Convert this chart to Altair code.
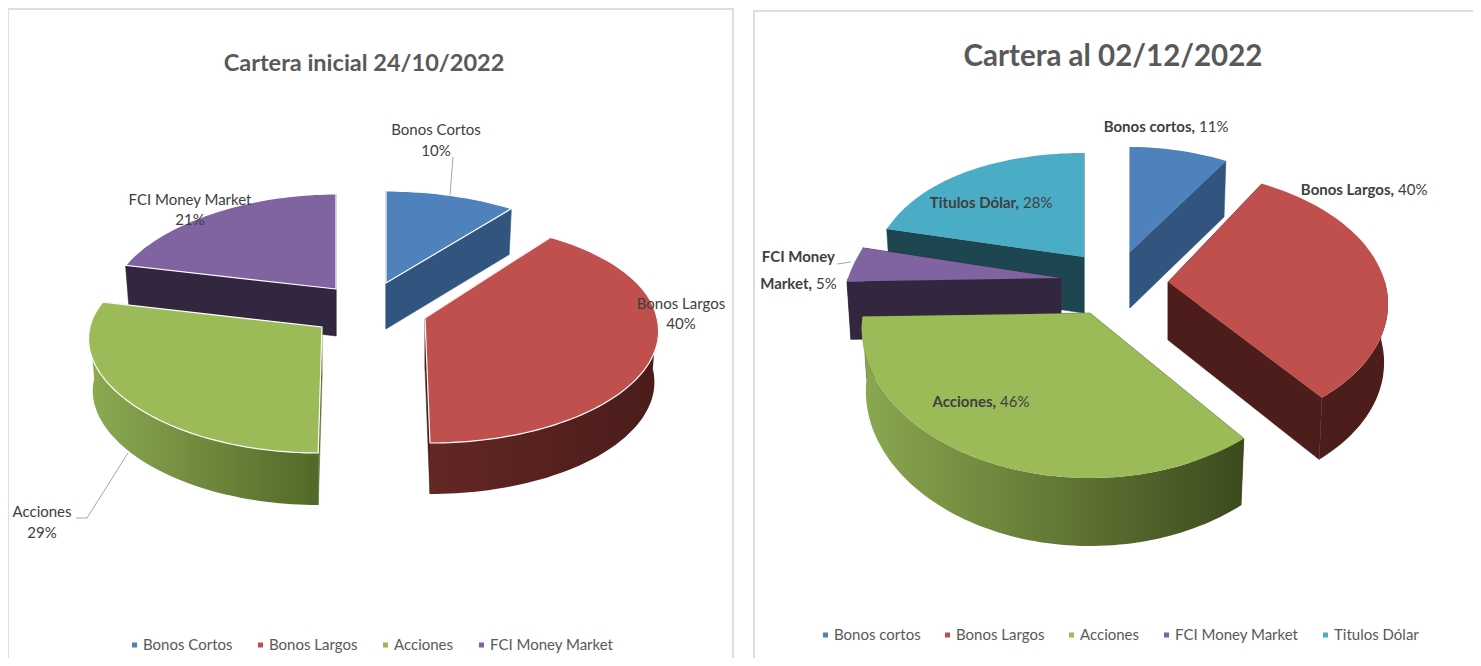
import math
import altair as alt
import pandas as pd

FONT = "Lato"

# ---- data ----
left_names = ["Bonos Cortos", "Bonos Largos", "Acciones", "FCI Money Market"]
left_values = [10, 40, 29, 21]
right_names = ["Bonos cortos", "Bonos Largos", "Acciones", "FCI Money Market", "Titulos Dólar"]
right_values = [11, 40, 46, 5, 28]

left_colors = ["#4f81bd", "#c0504d", "#9bbb59", "#8064a2"]
right_colors = ["#4f81bd", "#c0504d", "#9bbb59", "#8064a2", "#4bacc6"]
left_cut = ["#31557f", "#4c1d1b", "#5a7030", "#33273f"]
right_cut = ["#31557f", "#4c1d1b", "#3e4c1f", "#33273f", "#1d4650"]
left_wall = [("#31557f", "#31557f"), ("#632724", "#4a1c1a"), ("#8cab52", "#526829"), ("#33273f", "#33273f")]
right_wall = [("#31557f", "#31557f"), ("#4c1d1b", "#4c1d1b"), ("#8aa850", "#3c4a1d"), ("#33273f", "#33273f"), ("#1d4650", "#1d4650")]

# exploded slice geometry, page pixels: apex x, apex y, rm, k, ry, q, depth, depth growth, skew
left_geom = [
    (386, 283, 232, 23, 92, 0, 46, 0, 0.0),
    (425, 318, 232, 23, 111, 14, 51, 0, 0.04),
    (322, 327, 232, 23, 105, 21, 52, 0, -0.03),
    (336, 289, 223, 23, 95, 0, 47, 0, 0.0),
]
right_geom = [
    (1130, 252, 221, 37, 110, 5, 56, 0, 0.0),
    (1168, 282, 217, 37, 132, 21, 58, 5, 0.0),
    (1090, 313, 227, 24, 147, 18, 62, 6, 0.0),
    (1061, 278, 213, 47, 140, 0, 58, 0, 0.0),
    (1084, 257, 210, 37, 136, 32, 56, 0, 0.0),
]
left_order = [3, 0, 2, 1]
right_order = [4, 3, 0, 1, 2]

left_labels = [
    ("Bonos Cortos", 436, 130), ("10%", 436, 151),
    ("Bonos Largos", 681, 304), ("40%", 681, 324),
    ("Acciones", 42, 512), ("29%", 42, 533),
    ("FCI Money Market", 190, 200), ("21%", 190, 220),
]
right_labels = [
    ("Bonos cortos,", "11%", 1195, 127),
    ("Bonos Largos,", "40%", 1394, 190),
    ("Titulos Dólar,", "28%", 1019, 203),
    ("FCI Money", "", 835, 257),
    ("Market,", "5%", 812, 284),
    ("Acciones,", "46%", 996, 402),
]
OX, OY = 8, 8


def pt(g, a_deg, bottom=False, shrink=0.982):
    cx, cy, rm, k, ry, q, d0, dk, sk = g
    a = math.radians(a_deg)
    x = math.sin(a) * (rm - k * math.cos(a))
    y = -math.cos(a) * (ry - q * math.cos(a))
    x += sk * max(y, 0)
    if bottom:
        x *= shrink
        y += d0 - dk * math.cos(a)
    return [round(cx + x - OX, 1), round(cy + y - OY, 1)]


def feature(ring, **props):
    return {"type": "Feature", "properties": props,
            "geometry": {"type": "Polygon", "coordinates": [ring + [ring[0]]]}}


def arc(a0, a1):
    n = max(2, int(abs(a1 - a0) / 1.5))
    return [a0 + (a1 - a0) * i / n for i in range(n + 1)]


def pie(names, values, colors, cuts, walls, geom, order, field, legend, outline):
    proj = dict(type="identity", scale=1, translate=[0, 0])
    total = sum(values)
    bounds, acc = [], 0
    for v in values:
        bounds.append((acc / total * 360, (acc + v) / total * 360))
        acc += v
    layers = []
    for i in order:
        g, (a0, a1) = geom[i], bounds[i]
        apex = [g[0] - OX, g[1] - OY]
        apex_b = [g[0] - OX, g[1] - OY + g[6]]
        for a in (a0, a1):
            quad = [apex, pt(g, a), pt(g, a, True), apex_b]
            layers.append(alt.Chart(alt.Data(values=[feature(quad, part="cut")]))
                          .mark_geoshape(fill=cuts[i], stroke=cuts[i], strokeWidth=0.5)
                          .project(**proj))
        lo, hi = max(a0, 90), min(a1, 270)
        if lo < hi:
            angles = arc(lo, hi)
            ring = [pt(g, a) for a in angles] + [pt(g, a, True) for a in reversed(angles)]
            grad = alt.Gradient(gradient="linear", x1=0, x2=1, y1=0, y2=0,
                                stops=[alt.GradientStop(offset=0, color=walls[i][0]),
                                       alt.GradientStop(offset=1, color=walls[i][1])])
            layers.append(alt.Chart(alt.Data(values=[feature(ring, part="wall")]))
                          .mark_geoshape(fill=grad, strokeWidth=0)
                          .project(**proj))
        ring = [apex] + [pt(g, a) for a in arc(a0, a1)]
        opts = dict(stroke="white", strokeWidth=1.2) if outline else dict(strokeWidth=0)
        layers.append(alt.Chart(alt.Data(values=[feature(ring, **{field: names[i]})]))
                      .mark_geoshape(**opts)
                      .encode(fill=alt.Fill(f"properties.{field}:N",
                                            scale=alt.Scale(domain=names, range=colors),
                                            legend=legend))
                      .project(**proj))
    return alt.layer(*layers)


def leg(x, y, cols, pad):
    return alt.Legend(orient="none", legendX=x, legendY=y, direction="horizontal", columns=cols,
                      title=None, symbolType="square", symbolSize=26, symbolStrokeWidth=0,
                      labelFont=FONT, labelFontSize=LEG_SIZE, labelColor="#595959",
                      columnPadding=pad, labelOffset=1, clipHeight=18)


LEG_SIZE = 15
frames = alt.Chart(pd.DataFrame({"x": [0, 746], "x2": [725, 1490], "y": [1, 3], "y2": [700, 700]})).mark_rect(
    fill="white", stroke="#dedede", strokeWidth=2
).encode(x=alt.X("x:Q", scale=None, axis=None), x2="x2:Q",
         y=alt.Y("y:Q", scale=None, axis=None), y2="y2:Q")

left = pie(left_names, left_values, left_colors, left_cut, left_wall, left_geom, left_order,
           "left", leg(119, 628, 4, 20), True)
right = pie(right_names, right_values, right_colors, right_cut, right_wall, right_geom, right_order,
            "right", leg(810, 618, 5, 19), False)


def text_layer(rows, **kw):
    df = pd.DataFrame(rows, columns=["t", "x", "y"])
    df["x"] -= OX
    df["y"] -= OY
    return alt.Chart(df).mark_text(font=FONT, baseline="middle", **kw).encode(
        x=alt.X("x:Q", scale=None, axis=None), y=alt.Y("y:Q", scale=None, axis=None), text="t:N")


titles = [
    text_layer([("Cartera inicial 24/10/2022", 364, 64)], fontSize=23.5, fontWeight="bold", color="#595959", align="center"),
    text_layer([("Cartera al 02/12/2022", 1113, 57)], fontSize=29.5, fontWeight="bold", color="#595959", align="center"),
]
labels = [
    text_layer(left_labels, fontSize=15, color="#404040", align="center"),
    text_layer([(r[0], r[2], r[3]) for r in right_labels], fontSize=15, fontWeight="bold", color="#404040", align="right"),
    text_layer([(r[1], r[2] + 4, r[3]) for r in right_labels if r[1]], fontSize=15, color="#404040", align="left"),
]

lead = pd.DataFrame({"x": [445, 442, 68, 79, 120, 829, 843], "y": [149, 187, 510, 510, 445, 256, 254], "g": [1, 1, 2, 2, 2, 3, 3]})
leaders = alt.Chart(lead).mark_line(color="#a6a6a6", strokeWidth=1).encode(
    x=alt.X("x:Q", scale=None, axis=None), y=alt.Y("y:Q", scale=None, axis=None), detail="g:N")

chart = alt.layer(frames, left, right, leaders, *titles, *labels).resolve_scale(fill="independent").properties(
    width=1465, height=650, padding=0, autosize=alt.AutoSizeParams(type="none")
).configure_view(stroke=None)

chart.save("out.html", embed_options={"renderer": "svg", "actions": False})
